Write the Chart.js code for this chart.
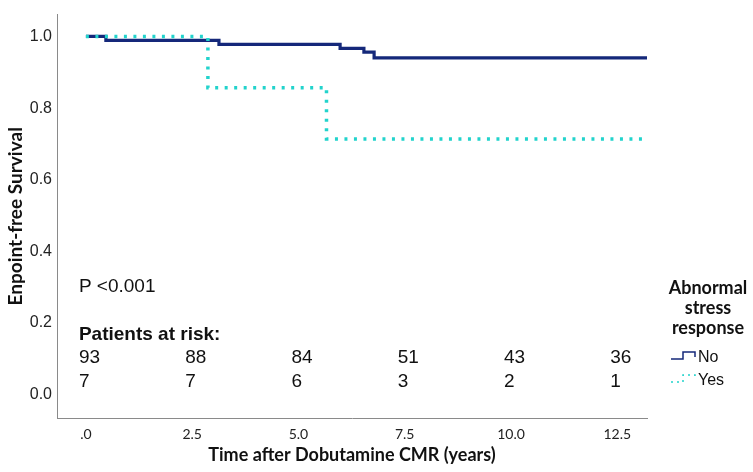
<!DOCTYPE html>
<html>
<head>
<meta charset="utf-8">
<script src="https://cdn.jsdelivr.net/npm/chart.js@4.4.1/dist/chart.umd.min.js"></script>
<style>
  html, body { margin: 0; padding: 0; background: #fff; }
  #wrap { width: 753px; height: 472px; }
</style>
</head>
<body>
<div id="wrap"><canvas id="c" width="753" height="472"></canvas></div>
<script>
// Kaplan-Meier steps
const timeNo = [0, 0.47, 3.13, 5.98, 6.54, 6.78, 13.2]
const survNo = [1.0, 0.989, 0.978, 0.967, 0.956, 0.940, 0.940]
const timeYes = [0, 2.87, 5.66, 13.2]
const survYes = [1.0, 0.857, 0.714, 0.714]

const groupLabels = ['No', 'Yes']
const xTicks = [0, 2.5, 5, 7.5, 10, 12.5]
const yTicks = [0, 0.2, 0.4, 0.6, 0.8, 1.0]
const riskNo = [93, 88, 84, 51, 43, 36]
const riskYes = [7, 7, 6, 3, 2, 1]

const NAVY = '#15287a'
const CYAN = '#22d3cc'
const ARIAL = '"Liberation Sans", Arial, sans-serif'
const CALIBRI = 'Lato, "Open Sans", sans-serif'

const toPoints = (t, s) => t.map((x, i) => ({ x: x, y: s[i] }))

// draws the risk table, p value and the step-icon legend
const annotations = {
  id: 'annotations',
  afterDraw (chart) {
    const ctx = chart.ctx
    const xs = chart.scales.x
    ctx.save()
    ctx.fillStyle = '#111'
    ctx.textBaseline = 'middle'
    ctx.textAlign = 'left'
    const left = xs.getPixelForValue(0) - 7

    ctx.font = '19px ' + ARIAL
    ctx.fillText('P <0.001', left, 287)
    ctx.font = 'bold 19px ' + ARIAL
    ctx.fillText('Patients at risk:', left, 335)

    ctx.font = '19px ' + ARIAL
    xTicks.forEach((t, i) => {
      const x = xs.getPixelForValue(t) - 7
      ctx.fillText(String(riskNo[i]), x, 358)
      ctx.fillText(String(riskYes[i]), x, 382)
    })

    // legend
    ctx.textAlign = 'center'
    ctx.font = 'bold 18px ' + CALIBRI
    ;['Abnormal', 'stress', 'response'].forEach((s, i) => {
      ctx.fillText(s, 708, 288 + i * 20)
    })
    ctx.textAlign = 'left'
    ctx.font = '16px ' + ARIAL
    const items = [
      { label: groupLabels[0], color: NAVY, dash: [], y: 357 },
      { label: groupLabels[1], color: CYAN, dash: [2, 4], y: 380 }
    ]
    items.forEach(it => {
      ctx.strokeStyle = it.color
      ctx.lineWidth = 1.5
      ctx.setLineDash(it.dash)
      ctx.beginPath()
      ctx.moveTo(671, it.y + 2)
      ctx.lineTo(683, it.y + 2)
      ctx.lineTo(683, it.y - 5)
      ctx.lineTo(695, it.y - 5)
      ctx.lineTo(695, it.y)
      ctx.stroke()
      ctx.setLineDash([])
      ctx.fillStyle = '#111'
      ctx.fillText(it.label, 698, it.y + 1)
    })
    ctx.restore()
  }
}

new Chart(document.getElementById('c'), {
  type: 'line',
  data: {
    datasets: [
      {
        label: groupLabels[0],
        data: toPoints(timeNo, survNo),
        borderColor: NAVY,
        borderWidth: 3.2,
        stepped: 'before',
        pointRadius: 0,
        fill: false,
        order: 2
      },
      {
        label: groupLabels[1],
        data: toPoints(timeYes, survYes),
        borderColor: CYAN,
        borderWidth: 3.5,
        borderDash: [3, 6.5],
        borderCapStyle: 'butt',
        stepped: 'before',
        pointRadius: 0,
        fill: false,
        order: 1
      }
    ]
  },
  options: {
    responsive: false,
    animation: false,
    layout: { padding: { left: 0, top: 4, right: 106, bottom: 0 } },
    plugins: {
      legend: { display: false },
      tooltip: { enabled: false }
    },
    scales: {
      x: {
        type: 'linear',
        min: -0.68,
        max: 13.2,
        afterBuildTicks: (s) => { s.ticks = xTicks.map(v => ({ value: v })) },
        afterFit: (s) => { s.height = 54 },
        grid: { drawOnChartArea: false, drawTicks: false },
        border: { color: '#8a8a8a', width: 1 },
        ticks: {
          padding: 8,
          color: '#222',
          font: { family: CALIBRI, size: 14 },
          maxRotation: 0,
          callback: (v) => v === 0 ? '.0' : v.toFixed(1)
        },
        title: {
          display: true,
          text: 'Time after Dobutamine CMR (years)',
          color: '#111',
          font: { family: CALIBRI, size: 18, weight: 'bold' },
          padding: { top: 0, bottom: 6 }
        }
      },
      y: {
        min: -0.065,
        max: 1.061,
        afterBuildTicks: (s) => { s.ticks = yTicks.map(v => ({ value: v })) },
        afterFit: (s) => { s.width = 57 },
        grid: { drawOnChartArea: false, drawTicks: false },
        border: { color: '#8a8a8a', width: 1 },
        ticks: {
          padding: 5,
          color: '#222',
          font: { family: ARIAL, size: 16 },
          callback: (v) => v.toFixed(1)
        },
        title: {
          display: true,
          text: 'Enpoint-free Survival',
          color: '#111',
          font: { family: CALIBRI, size: 19, weight: 'bold' },
          padding: { top: 4, bottom: 0 }
        }
      }
    }
  },
  plugins: [annotations]
})
</script>
</body>
</html>
